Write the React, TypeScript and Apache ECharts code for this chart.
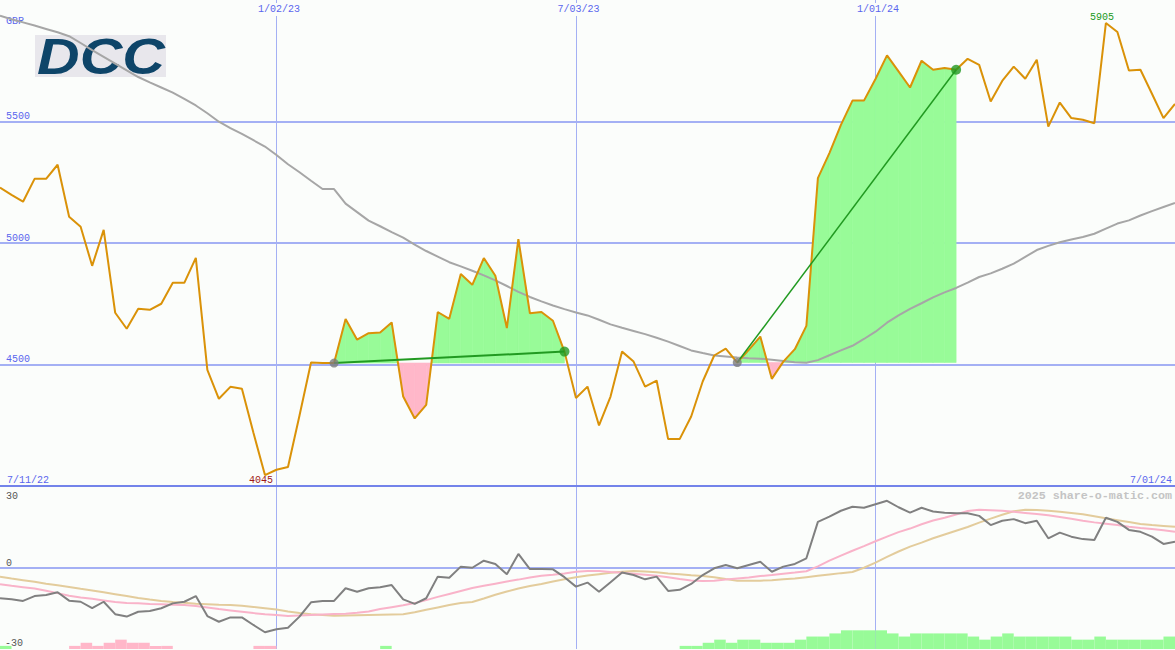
import React, { useEffect, useRef } from "react";
import * as echarts from "echarts";

// ---- data (weekly points) ----
const price = [
  5228, 5198, 5170, 5264, 5264, 5322, 5108, 5067, 4906, 5054,
  4713, 4647, 4729, 4725, 4750, 4836, 4836, 4939, 4478, 4359,
  4408, 4400, 4219, 4045, 4067, 4078, 4290, 4508, 4506, 4506,
  4687, 4602, 4629, 4632, 4673, 4368, 4278, 4334, 4716, 4688,
  4872, 4828, 4938, 4865, 4650, 5016, 4711, 4716, 4680, 4553,
  4362, 4409, 4249, 4368, 4553, 4512, 4409, 4434, 4193, 4193,
  4286, 4430, 4537, 4565, 4508, 4560, 4615, 4441, 4512, 4563,
  4659, 5267, 5370, 5486, 5586, 5586, 5675, 5772, 5706, 5640,
  5750, 5713, 5720, 5713, 5758, 5733, 5582, 5667, 5726, 5676,
  5754, 5479, 5578, 5514, 5507, 5493, 5905, 5868, 5710, 5713,
  5614, 5514, 5572,
];

const movingAvg = [
  5935, 5921, 5908, 5895, 5881, 5867, 5851, 5823, 5794, 5766,
  5738, 5710, 5683, 5661, 5640, 5619, 5593, 5566, 5534, 5499,
  5473, 5449, 5423, 5397, 5362, 5324, 5291, 5256, 5222, 5222,
  5162, 5127, 5092, 5069, 5045, 5022, 4993, 4967, 4944, 4921,
  4904, 4886, 4867, 4846, 4823, 4799, 4778, 4760, 4743, 4728,
  4714, 4702, 4684, 4665, 4651, 4638, 4625, 4610, 4594, 4576,
  4558, 4547, 4537, 4533, 4529, 4526, 4524, 4520, 4514, 4509,
  4507, 4518, 4538, 4558, 4577, 4605, 4635, 4672, 4702, 4729,
  4752, 4776, 4797, 4815, 4837, 4860, 4875, 4894, 4915, 4943,
  4971, 4988, 5003, 5014, 5025, 5038, 5059, 5080, 5093, 5113,
  5131, 5148, 5165,
];

const oscGray = [
  -11.2, -11.6, -12.2, -10.4, -10, -9, -12.1, -12.5, -14.9, -12.5,
  -17.1, -18, -16.2, -15.9, -14.9, -13.1, -12.5, -10.4, -17.8, -19.9,
  -18.3, -18.3, -21.1, -23.8, -22.7, -22.1, -18, -12.7, -12.2, -12.2,
  -7.5, -8.8, -7.5, -7.1, -6.3, -11.6, -13.3, -11.2, -3.2, -3.6,
  0.5, 0.1, 2.7, 1.5, -2.3, 5.2, -0.4, -0.4, -0.5, -3.4,
  -6.9, -5.4, -8.8, -5.3, -1.7, -2.6, -4.2, -3.2, -8.5, -8.1,
  -5.9, -2.6, -0.1, 1.1, -0.1, 1.1, 2.3, -1.4, 0.5, 1.5,
  3.6, 17.1, 19, 21.2, 22.7, 22.3, 23.6, 24.9, 22.5, 20.5,
  22.3, 20.9, 20.5, 20.3, 20.3, 19.3, 15.9, 17.5, 18.1, 16.6,
  17.5, 11, 13.1, 11.6, 10.7, 10.4, 18.6, 17.1, 14.1, 13.4,
  11.6, 8.9, 9.7,
];

const oscPink = [
  -6.0, -6.6, -7.1, -7.6, -8.4, -9.3, -10.3, -10.9, -11.4, -12,
  -12.6, -13, -13.1, -13.3, -13.4, -13.6, -13.7, -14.1, -14.6, -15.2,
  -15.7, -16.2, -16.7, -17.1, -17.4, -17.8, -17.6, -17.4, -17.2, -17,
  -16.9, -16.6, -16.1, -15.2, -14.5, -13.8, -13, -11.9, -10.7, -9.6,
  -8.5, -7.4, -6.6, -5.8, -5, -4.3, -3.5, -2.9, -2.5, -2,
  -1.4, -1.1, -1.1, -1.5, -1.8, -2.1, -2.5, -2.9, -3.4, -4.1,
  -4.6, -4.8, -4.7, -4.3, -3.9, -3.5, -3, -2.6, -2.1, -1.7,
  -1.2, 0.6, 2.7, 4.6, 6.4, 8.1, 9.9, 11.6, 13.3, 14.6,
  16.2, 17.6, 18.6, 19.8, 21.1, 21.6, 21.4, 21.2, 20.8, 20.4,
  20, 19.5, 18.9, 18.2, 17.5, 16.9, 16.4, 15.9, 15.3, 14.8,
  14.4, 14, 13.4,
];

const oscTan = [
  -3.2, -3.9, -4.5, -5.1, -5.8, -6.4, -7, -7.7, -8.3, -9,
  -9.7, -10.4, -11.1, -11.7, -12.2, -12.6, -12.9, -13.2, -13.4, -13.6,
  -13.7, -14, -14.4, -14.9, -15.4, -16.1, -16.7, -17.1, -17.4, -17.7,
  -17.6, -17.5, -17.4, -17.3, -17.2, -17.1, -16.4, -15.5, -14.6, -13.7,
  -13, -12.6, -11.3, -9.9, -8.7, -7.6, -6.7, -5.9, -5, -4.2,
  -3.4, -2.8, -2.3, -1.8, -1.4, -1.1, -1.3, -1.6, -2, -2.3,
  -2.7, -3, -3.4, -4.1, -4.7, -4.7, -4.7, -4.5, -4.2, -3.9,
  -3.4, -2.9, -2.4, -1.9, -1.5, 0.1, 2, 4.1, 6.1, 7.9,
  9.4, 11, 12.4, 13.8, 15.2, 16.8, 18.3, 19.7, 21, 21.6,
  21.5, 21.2, 20.8, 20.4, 19.9, 19.2, 18.4, 17.7, 17, 16.3,
  15.9, 15.6, 15.3,
];

// signed histogram (one bar between consecutive points)
const histogram = [
  1, 0, 0, 0, 0, 0, -1, -2, -1, -2,
  -3, -2, -2, -1, -1, 0, 0, 0, 0, 0,
  0, 0, -1, -1, 0, 0, 0, 0, 0, 0,
  0, 0, 0, 1, 0, 0, 0, 0, 0, 0,
  0, 0, 0, 0, 0, 0, 0, 0, 0, 0,
  0, 0, 0, 0, 0, 0, 0, 0, 0, 1,
  1, 2, 3, 2, 3, 3, 2, 2, 2, 3,
  4, 4, 5, 6, 6, 6, 6, 5, 4, 5,
  5, 5, 5, 5, 4, 3, 4, 5, 4, 4,
  4, 4, 4, 3, 3, 4, 3, 3, 3, 3,
  3, 4,
];

const tickIndex = [24, 50, 76];
const tickLabels = ["1/02/23", "7/03/23", "1/01/24"];
const startLabel = "7/11/22";
const endLabel = "7/01/24";
const currencyLabel = "GBP";
const priceTicks = [4500, 5000, 5500];
const oscTopLabel = "30";
const oscBottomLabel = "-30";
const watermark = "2025 share-o-matic.com";
const logoText = "DCC";
const trades = [
  { entry: 29, exit: 49 },
  { entry: 64, exit: 83 },
];

// ---- styles ----
const BG = "#fbfdfb";
const GRIDC = "#a4b0f4";
const LABELC = "#5a66ee";
const FONT = "Liberation Mono";
const GREEN_FILL = "#98fb98";
const PINK_FILL = "#ffb7c9";

export default function App() {
  const ref = useRef<HTMLDivElement>(null);

  useEffect(() => {
    if (!ref.current) return;
    const chart = echarts.init(ref.current, undefined, { renderer: "svg" });
    const cats = price.map((_, i) => String(i));
    const bands = histogram.map((_, i) => String(i));

    // one item per segment: [index, value, nextValue, entryPrice]
    const segs: number[][] = [];
    trades.forEach((t) => {
      for (let i = t.entry; i < t.exit; i++) {
        segs.push([i, price[i], price[i + 1], price[t.entry]]);
      }
    });

    const renderFill = (_params: any, api: any) => {
      const i = api.value(0);
      const p0 = api.value(1);
      const p1 = api.value(2);
      const base = api.value(3);
      const a = api.coord([i, p0]);
      const b = api.coord([i + 1, p1]);
      const a0 = api.coord([i, base]);
      const b0 = api.coord([i + 1, base]);
      const col = (d: number) => (d >= 0 ? GREEN_FILL : PINK_FILL);
      const poly = (pts: number[][], fill: string) => ({
        type: "polygon",
        shape: { points: pts },
        style: { fill, stroke: fill, lineWidth: 0.6 },
      });
      const d0 = p0 - base;
      const d1 = p1 - base;
      if (d0 * d1 >= 0) {
        return {
          type: "group",
          children: [poly([a, b, b0, a0], col(d0 + d1))],
        };
      }
      const t = d0 / (d0 - d1);
      const c = [a[0] + t * (b[0] - a[0]), a0[1]];
      return {
        type: "group",
        children: [poly([a, c, a0], col(d0)), poly([c, b, b0], col(d1))],
      };
    };

    const tradeLines = trades.map((t, k) => ({
      type: "line",
      xAxisIndex: 0,
      yAxisIndex: 0,
      data: [
        [t.entry, price[t.entry]],
        [t.exit, price[t.exit]],
      ],
      symbol: "none",
      lineStyle: { color: "#219a21", width: k === 0 ? 2 : 1.5 },
      z: 5,
      silent: true,
    }));

    const option: any = {
      animation: false,
      backgroundColor: BG,
      grid: [
        { left: 0, right: 0, top: 0, height: 486 },
        { left: 0, right: 0, top: 487, height: 162 },
      ],
      xAxis: [
        {
          type: "category",
          gridIndex: 0,
          data: cats,
          boundaryGap: false,
          position: "bottom",
          axisLine: { show: true, lineStyle: { color: "#7383ea", width: 2 } },
          axisTick: { show: false },
          axisLabel: { show: false },
          splitLine: {
            show: true,
            interval: (i: number) => tickIndex.includes(i),
            lineStyle: { color: GRIDC, width: 1 },
          },
        },
        {
          type: "category",
          gridIndex: 0,
          data: cats,
          boundaryGap: false,
          position: "top",
          axisLine: { show: false },
          axisTick: { show: false },
          splitLine: { show: false },
          axisLabel: {
            show: true,
            inside: true,
            interval: (i: number) => tickIndex.includes(i),
            formatter: (_v: string, i: number) => {
              const k = tickIndex.indexOf(i);
              return k >= 0 ? tickLabels[k] : "";
            },
            color: LABELC,
            fontFamily: FONT,
            fontSize: 10,
            margin: 3,
            backgroundColor: BG,
            padding: [1, 1, 2, 6],
          },
        },
        {
          type: "category",
          gridIndex: 1,
          data: cats,
          boundaryGap: false,
          axisLine: { show: false },
          axisTick: { show: false },
          axisLabel: { show: false },
          splitLine: {
            show: true,
            interval: (i: number) => tickIndex.includes(i),
            lineStyle: { color: GRIDC, width: 1 },
          },
        },
        {
          type: "category",
          gridIndex: 1,
          data: bands,
          boundaryGap: true,
          show: false,
        },
      ],
      yAxis: [
        {
          type: "value",
          gridIndex: 0,
          min: 4000,
          max: 6000,
          interval: 500,
          axisLine: { show: false },
          axisTick: { show: false },
          axisLabel: {
            inside: true,
            margin: 6,
            verticalAlign: "bottom",
            color: LABELC,
            fontFamily: FONT,
            fontSize: 10,
            formatter: (v: number) => (priceTicks.includes(v) ? String(v) : ""),
          },
          splitLine: {
            show: true,
            lineStyle: {
              color: ["transparent", GRIDC, GRIDC, GRIDC, "transparent"],
              width: 2,
            },
          },
        },
        {
          type: "value",
          gridIndex: 1,
          min: -30,
          max: 30,
          interval: 30,
          axisLine: { show: false },
          axisTick: { show: false },
          axisLabel: {
            inside: true,
            margin: 6,
            verticalAlign: "bottom",
            color: "#555555",
            fontFamily: FONT,
            fontSize: 10,
            formatter: (v: number) => (v === 0 ? "0" : ""),
          },
          splitLine: {
            show: true,
            lineStyle: { color: ["transparent", GRIDC, "transparent"], width: 2 },
          },
        },
        { type: "value", gridIndex: 1, min: 0, max: 52, show: false },
      ],
      graphic: [
        {
          type: "rect",
          shape: { x: 35, y: 35, width: 131, height: 42 },
          style: { fill: "#e8e7ec" },
          z: -1,
        },
        {
          type: "text",
          x: 101,
          y: 57,
          scaleX: 1.18,
          style: {
            text: logoText,
            fill: "#0e4569",
            font: 'italic bold 50px "Liberation Sans"',
            textAlign: "center",
            textVerticalAlign: "middle",
          },
          z: -1,
        },
        {
          type: "text",
          x: 6,
          y: 26,
          style: { text: currencyLabel, fill: LABELC, font: `10px "${FONT}"`, textVerticalAlign: "bottom" },
        },
        {
          type: "text",
          x: 7,
          y: 485,
          style: { text: startLabel, fill: LABELC, font: `10px "${FONT}"`, textVerticalAlign: "bottom" },
        },
        {
          type: "text",
          x: 1172,
          y: 485,
          style: {
            text: endLabel,
            fill: LABELC,
            font: `10px "${FONT}"`,
            textAlign: "right",
            textVerticalAlign: "bottom",
          },
        },
        {
          type: "text",
          x: 6,
          y: 491,
          style: { text: oscTopLabel, fill: "#555555", font: `10px "${FONT}"`, textVerticalAlign: "top" },
        },
        {
          type: "text",
          x: 5,
          y: 648,
          style: { text: oscBottomLabel, fill: "#555555", font: `10px "${FONT}"`, textVerticalAlign: "bottom" },
        },
        {
          type: "text",
          x: 1172,
          y: 496,
          style: {
            text: watermark,
            fill: "#c4c4c4",
            font: `bold 11.7px "${FONT}"`,
            textAlign: "right",
            textVerticalAlign: "middle",
          },
        },
      ],
      series: [
        {
          type: "custom",
          xAxisIndex: 0,
          yAxisIndex: 0,
          data: segs,
          renderItem: renderFill,
          encode: { x: 0, y: [1, 2, 3] },
          z: 1,
          silent: true,
        },
        {
          type: "line",
          xAxisIndex: 0,
          yAxisIndex: 0,
          data: movingAvg,
          symbol: "none",
          lineStyle: { color: "#a6a6a6", width: 2 },
          z: 3,
          silent: true,
        },
        {
          type: "line",
          xAxisIndex: 0,
          yAxisIndex: 0,
          data: price,
          symbol: "none",
          lineStyle: { color: "#da9208", width: 2 },
          z: 4,
          silent: true,
          markPoint: {
            symbol: "circle",
            symbolSize: 1,
            itemStyle: { color: "transparent" },
            data: [
              {
                type: "min",
                label: {
                  position: "bottom",
                  distance: 0,
                  offset: [-4, 0],
                  color: "#a01818",
                  fontFamily: FONT,
                  fontSize: 10,
                },
              },
              {
                type: "max",
                label: {
                  position: "top",
                  distance: 0,
                  offset: [-4, 0],
                  color: "#229922",
                  fontFamily: FONT,
                  fontSize: 10,
                },
              },
            ],
          },
        },
        ...tradeLines,
        {
          type: "scatter",
          xAxisIndex: 0,
          yAxisIndex: 0,
          data: trades.map((t) => [t.entry, price[t.entry]]),
          symbolSize: 9,
          itemStyle: { color: "#7c7c7c" },
          z: 6,
          silent: true,
        },
        {
          type: "scatter",
          xAxisIndex: 0,
          yAxisIndex: 0,
          data: trades.map((t) => [t.exit, price[t.exit]]),
          symbolSize: 10,
          itemStyle: { color: "#229922" },
          z: 6,
          silent: true,
        },
        {
          type: "bar",
          xAxisIndex: 3,
          yAxisIndex: 2,
          data: histogram.map((v) => ({
            value: Math.abs(v),
            itemStyle: { color: v >= 0 ? GREEN_FILL : PINK_FILL },
          })),
          barWidth: "100%",
          barCategoryGap: 0,
          z: 1,
          silent: true,
        },
        {
          type: "line",
          xAxisIndex: 2,
          yAxisIndex: 1,
          data: oscTan,
          symbol: "none",
          lineStyle: { color: "#e3cc9c", width: 2 },
          z: 3,
          silent: true,
        },
        {
          type: "line",
          xAxisIndex: 2,
          yAxisIndex: 1,
          data: oscPink,
          symbol: "none",
          lineStyle: { color: "#f9b3c9", width: 2 },
          z: 3,
          silent: true,
        },
        {
          type: "line",
          xAxisIndex: 2,
          yAxisIndex: 1,
          data: oscGray,
          symbol: "none",
          lineStyle: { color: "#808080", width: 2 },
          z: 4,
          silent: true,
        },
      ],
    };

    chart.setOption(option);
    return () => chart.dispose();
  }, []);

  return (
    <div
      ref={ref}
      style={{ position: "fixed", left: 0, top: 0, width: 1175, height: 650 }}
    />
  );
}
